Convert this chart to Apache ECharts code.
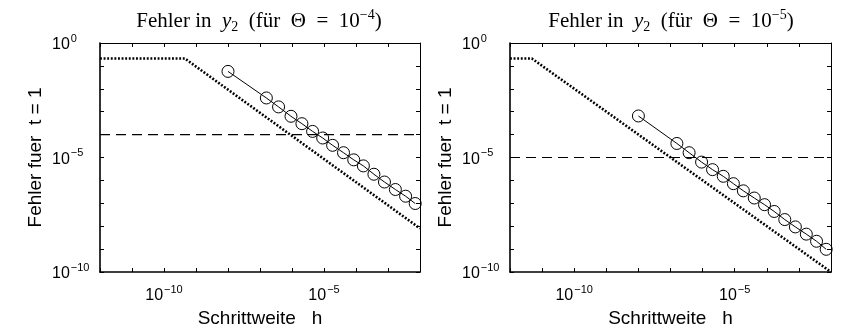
<!DOCTYPE html>
<html><head><meta charset="utf-8">
<script src="https://cdn.jsdelivr.net/npm/echarts@6/dist/echarts.min.js"></script>
<style>html,body{margin:0;padding:0;background:#fff}#c{width:843px;height:330px}</style>
</head><body><div id="c"></div>
<script>
// step sizes h (shared by both panels)
const stepSizes = [1.0e-8, 1.58e-7, 3.8e-7, 9.3e-7, 2.04e-6, 4.4e-6, 9.1e-6, 1.86e-5, 4.07e-5, 8.5e-5, 1.7e-4, 3.63e-4, 7.76e-4, 1.7e-3, 3.55e-3, 7.08e-3];
// errors at t = 1, Theta = 1e-4
const errTheta4 = [5.75e-2, 3.98e-3, 1.62e-3, 6.3e-4, 3.0e-4, 1.38e-4, 7.1e-5, 3.4e-5, 1.62e-5, 7.9e-6, 4.3e-6, 1.86e-6, 8.5e-7, 4.0e-7, 2.04e-7, 9.8e-8];
// errors at t = 1, Theta = 1e-5
const errTheta5 = [6.5e-4, 4.1e-5, 1.62e-5, 6.3e-6, 2.95e-6, 1.51e-6, 7.2e-7, 3.5e-7, 1.7e-7, 8.7e-8, 4.4e-8, 1.95e-8, 9.3e-9, 4.5e-9, 2.2e-9, 9.8e-10];
// dotted reference curves
const refH4 = [1e-12, 4.5e-10, 1e-2];
const refE4 = [0.21, 0.21, 8e-9];
const refH5 = [1e-12, 4.8e-12, 1e-2];
const refE5 = [0.21, 0.21, 1e-10];
// tolerance lines
const tolH = [1e-12, 1e-2];
const tol4 = [1e-4, 1e-4];
const tol5 = [1e-5, 1e-5];
const xRange = [1e-12, 1e-2];
const yRange = [1e-10, 1];
const labelExps = [0, -5, -10];
const titles = ['4', '5'];

const SANS = 'Liberation Sans, Arial, sans-serif';
const SERIF = 'Liberation Serif, Times New Roman, serif';
const zip = (a, b) => a.map((v, i) => [v, b[i]]);

function fmt(v) {
  const e = Math.round(Math.log10(v));
  if (labelExps.indexOf(e) < 0) return '';
  return '{b|10}{s|' + (e < 0 ? '\u2212' : '') + Math.abs(e) + '}';
}
const rich = {
  b: {fontSize: 16, fontFamily: SANS, color: '#000', lineHeight: 20, verticalAlign: 'bottom'},
  s: {fontSize: 11, fontFamily: SANS, color: '#000', lineHeight: 11, verticalAlign: 'top', padding: [0, 0, 0, 1]}
};
const thick = {show: true, onZero: false, lineStyle: {color: '#000', width: 1.6}};
const thin = {show: true, onZero: false, lineStyle: {color: '#000', width: 1}};
const tick = {show: true, inside: true, length: 4, lineStyle: {color: '#000', width: 1}};

function xAx(g, pos, lab) {
  return {type: 'log', logBase: 10, gridIndex: g, position: pos, min: xRange[0], max: xRange[1], interval: 1,
    axisLine: lab ? thick : thin, axisTick: tick, splitLine: {show: false}, minorTick: {show: false},
    axisLabel: lab ? {show: true, formatter: fmt, rich: rich, margin: 12, showMinLabel: true, showMaxLabel: true} : {show: false},
    name: lab ? 'Schrittweite   h' : '', nameLocation: 'middle', nameGap: 36,
    nameTextStyle: {fontSize: 19, fontFamily: SANS, color: '#000'}};
}
function yAx(g, pos, lab) {
  return {type: 'log', logBase: 10, gridIndex: g, position: pos, min: yRange[0], max: yRange[1], interval: 1,
    axisLine: lab ? thick : thin, axisTick: tick, splitLine: {show: false}, minorTick: {show: false},
    axisLabel: lab ? {show: true, formatter: fmt, rich: rich, margin: 48, align: 'left', showMinLabel: true, showMaxLabel: true} : {show: false},
    name: lab ? 'Fehler fuer  t = 1' : '', nameLocation: 'middle', nameGap: 55, nameRotate: 90,
    nameTextStyle: {fontSize: 19, fontFamily: SANS, color: '#000'}};
}
function title(cx, exp) {
  const base = {fontFamily: SERIF, color: '#000', fontWeight: 'normal'};
  return {left: cx, top: 3, textAlign: 'center',
    text: '{r|Fehler in  }{i|y}{sub|2}{r|  (für  Θ  =  10}{sup|\u2212' + exp + '}{r|)}',
    textStyle: {fontWeight: 'normal', rich: {
      r: Object.assign({fontSize: 21, lineHeight: 26, verticalAlign: 'middle'}, base),
      i: Object.assign({fontSize: 21, fontStyle: 'italic', lineHeight: 26, verticalAlign: 'middle'}, base),
      sub: Object.assign({fontSize: 14, lineHeight: 13, verticalAlign: 'bottom'}, base),
      sup: Object.assign({fontSize: 14, lineHeight: 13, verticalAlign: 'top'}, base)
    }}};
}
function panel(xi, yi, err, rh, re, tol) {
  return [
    {type: 'line', xAxisIndex: xi, yAxisIndex: yi, data: zip(rh, re), symbol: 'none', silent: true,
      lineStyle: {color: '#000', width: 2.6, type: [1.9, 1.7]}},
    {type: 'line', xAxisIndex: xi, yAxisIndex: yi, data: zip(tolH, tol), symbol: 'none', silent: true,
      lineStyle: {color: '#000', width: 1.2, type: [10, 6]}},
    {type: 'line', xAxisIndex: xi, yAxisIndex: yi, data: zip(stepSizes, err), symbol: 'circle', symbolSize: 12,
      itemStyle: {color: 'rgba(0,0,0,0)', borderColor: '#000', borderWidth: 1}, silent: true,
      lineStyle: {color: '#000', width: 1}}
  ];
}
const chart = echarts.init(document.getElementById('c'), null, {renderer: 'canvas'});
chart.setOption({
  animation: false,
  backgroundColor: '#fff',
  title: [title(254, titles[0]), title(666, titles[1])],
  grid: [
    {left: 100, top: 43, width: 320, height: 229, containLabel: false, outerBoundsMode: 'none'},
    {left: 510, top: 43, width: 321, height: 229, containLabel: false, outerBoundsMode: 'none'}
  ],
  xAxis: [xAx(0, 'bottom', true), xAx(0, 'top', false), xAx(1, 'bottom', true), xAx(1, 'top', false)],
  yAxis: [yAx(0, 'left', true), yAx(0, 'right', false), yAx(1, 'left', true), yAx(1, 'right', false)],
  series: [].concat(panel(0, 0, errTheta4, refH4, refE4, tol4), panel(2, 2, errTheta5, refH5, refE5, tol5))
});
</script></body></html>
